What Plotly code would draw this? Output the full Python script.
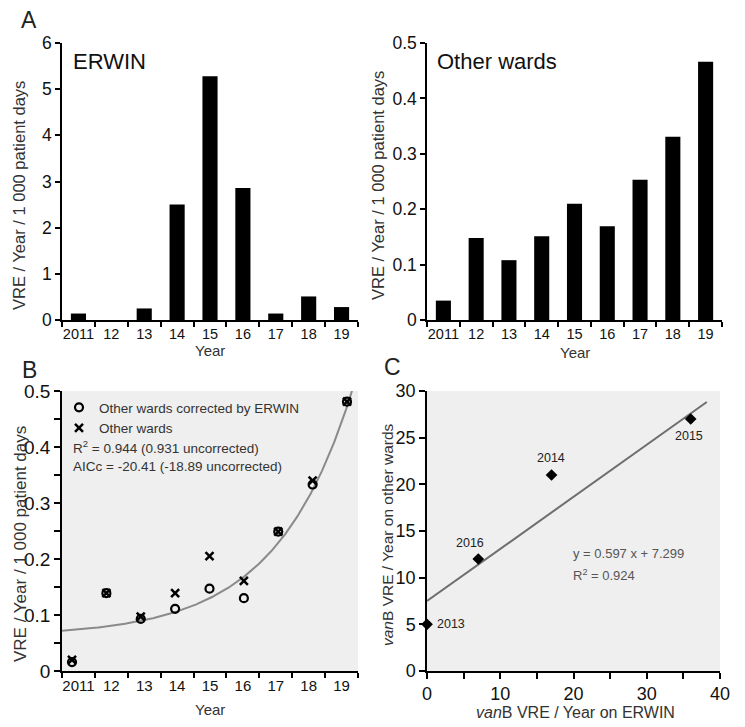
import numpy as np
import plotly.graph_objects as go

# ---------------- data ----------------
years = ["2011", "12", "13", "14", "15", "16", "17", "18", "19"]
year_num = [2011, 2012, 2013, 2014, 2015, 2016, 2017, 2018, 2019]
erwin_rate = [0.14, 0.0, 0.25, 2.50, 5.28, 2.86, 0.14, 0.51, 0.28]
other_rate = [0.035, 0.148, 0.108, 0.151, 0.210, 0.169, 0.253, 0.331, 0.466]
corrected_rate = [0.016, 0.139, 0.093, 0.111, 0.147, 0.130, 0.249, 0.333, 0.481]
uncorrected_rate = [0.020, 0.139, 0.097, 0.139, 0.205, 0.161, 0.249, 0.340, 0.481]
# exponential fit drawn in panel B: base + amp * exp(rate * (year - 2011))
fit_base, fit_amp, fit_rate = 0.062, 0.0112, 0.45

vanb_erwin = [0, 7, 17, 36]
vanb_other = [5, 12, 21, 27]
vanb_year = ["2013", "2016", "2014", "2015"]
lin_intercept, lin_slope, lin_xmax = 7.5, 0.558, 38.2

FONT = "Liberation Sans, Arial, sans-serif"
W, H = 745, 727


def px(x):
    return x / W


def py(y):
    return 1 - y / H


fig = go.Figure()

# Panel A left
fig.add_trace(go.Bar(x=years, y=erwin_rate, width=0.46, marker=dict(color="black", line_width=0),
                     xaxis="x", yaxis="y", showlegend=False))
# Panel A right
fig.add_trace(go.Bar(x=years, y=other_rate, width=0.46, marker=dict(color="black", line_width=0),
                     xaxis="x2", yaxis="y2", showlegend=False))
# Panel B category frame (invisible)
fig.add_trace(go.Scatter(x=years, y=corrected_rate, mode="markers", marker=dict(opacity=0),
                         xaxis="x3", yaxis="y3", showlegend=False, hoverinfo="skip"))
# Panel B fit curve
t = np.linspace(2010.709, 2019.3, 300)
fig.add_trace(go.Scatter(x=t, y=fit_base + fit_amp * np.exp(fit_rate * (t - 2011)), mode="lines",
                         line=dict(color="#8a8a8a", width=2), xaxis="x5", yaxis="y3",
                         showlegend=False, hoverinfo="skip"))
fig.add_trace(go.Scatter(x=year_num, y=corrected_rate, mode="markers", name="Other wards corrected by ERWIN",
                         marker=dict(symbol="circle-open", size=8, color="black", line=dict(width=2.2, color="black")),
                         xaxis="x5", yaxis="y3"))
fig.add_trace(go.Scatter(x=year_num, y=uncorrected_rate, mode="markers", name="Other wards",
                         marker=dict(symbol="x-thin-open", size=8, color="black", line=dict(width=2.5, color="black")),
                         xaxis="x5", yaxis="y3"))
# Panel C
fig.add_trace(go.Scatter(x=[0, lin_xmax], y=[lin_intercept, lin_intercept + lin_slope * lin_xmax], mode="lines",
                         line=dict(color="#6e6e6e", width=2), xaxis="x4", yaxis="y4",
                         showlegend=False, hoverinfo="skip"))
fig.add_trace(go.Scatter(x=vanb_erwin, y=vanb_other, mode="markers",
                         marker=dict(symbol="diamond", size=9, color="black"), cliponaxis=False,
                         xaxis="x4", yaxis="y4", showlegend=False))

axis_common = dict(showline=True, linecolor="black", linewidth=1.5, ticks="outside", ticklen=5,
                   tickwidth=1.5, tickcolor="black", showgrid=False, zeroline=False, automargin=False,
                   tickfont=dict(family=FONT, color="#111"))

dom_xl = [px(62), px(358)]
dom_xr = [px(427), px(722)]
dom_xc = [px(427), px(720)]
dom_ytop = [py(320), py(43)]
dom_ybot = [py(671), py(391)]

fig.update_layout(
    width=W, height=H, autosize=False, margin=dict(l=0, r=0, t=0, b=0, autoexpand=False),
    paper_bgcolor="white", plot_bgcolor="rgba(0,0,0,0)",
    font=dict(family=FONT, color="#222"),
    xaxis=dict(axis_common, domain=dom_xl, anchor="y", type="category", tickson="boundaries",
               range=[-0.5, 8.5], tickangle=0, tickfont=dict(family=FONT, size=14.5, color="#111")),
    yaxis=dict(axis_common, domain=dom_ytop, anchor="x", range=[0, 6], dtick=1,
               tickfont=dict(family=FONT, size=17.5, color="#111")),
    xaxis2=dict(axis_common, domain=dom_xr, anchor="y2", type="category", tickson="boundaries",
                range=[-0.5, 8.5], tickangle=0, tickfont=dict(family=FONT, size=14.5, color="#111")),
    yaxis2=dict(axis_common, domain=dom_ytop, anchor="x2", range=[0, 0.5], dtick=0.1,
                tickfont=dict(family=FONT, size=17.5, color="#111")),
    xaxis3=dict(axis_common, domain=dom_xl, anchor="y3", type="category", tickson="boundaries",
                range=[-0.5, 8.5], tickangle=0, tickfont=dict(family=FONT, size=15, color="#111")),
    yaxis3=dict(axis_common, domain=dom_ybot, anchor="x3", range=[0, 0.5], dtick=0.1, ticklen=6,
                minor=dict(dtick=0.05, ticks="outside", ticklen=6, tickwidth=1.5, tickcolor="black"),
                tickfont=dict(family=FONT, size=19, color="#111")),
    xaxis5=dict(domain=dom_xl, anchor="y3", overlaying="x3", range=[2010.709, 2019.32], visible=False),
    xaxis4=dict(axis_common, domain=dom_xc, anchor="y4", range=[0, 40], dtick=10, ticklen=6,
                minor=dict(dtick=5, ticks="outside", ticklen=6, tickwidth=1.5, tickcolor="black"),
                tickfont=dict(family=FONT, size=18, color="#111")),
    yaxis4=dict(axis_common, domain=dom_ybot, anchor="x4", range=[0, 30], dtick=5, ticklen=6,
                tickfont=dict(family=FONT, size=18, color="#111")),
    legend=dict(x=px(59), y=py(392), xanchor="left", yanchor="top", bgcolor="rgba(0,0,0,0)",
                font=dict(family=FONT, size=13.5, color="#333"), itemwidth=30, tracegroupgap=0),
    shapes=[
        dict(type="rect", xref="x3 domain", yref="y3 domain", x0=0, x1=1, y0=0, y1=1,
             fillcolor="#efefef", line_width=0, layer="below"),
        dict(type="rect", xref="x4 domain", yref="y4 domain", x0=0, x1=1, y0=0, y1=1,
             fillcolor="#efefef", line_width=0, layer="below"),
    ],
)

ann = []


def label(text, x, y, size, color="#222", xanchor="center", angle=0):
    ann.append(dict(text=text, x=px(x), y=py(y), xref="paper", yref="paper", showarrow=False,
                    xanchor=xanchor, yanchor="middle", textangle=angle,
                    font=dict(family=FONT, size=size, color=color)))


label("A", 29, 20, 23)
label("B", 29, 370, 23)
label("C", 392, 367, 23)
label("ERWIN", 71, 62, 22, "#111", "left")
label("Other wards", 435, 62, 22, "#111", "left")
label("Year", 210, 350, 15, "#333")
label("Year", 575, 352, 15, "#333")
label("Year", 210, 709, 15, "#333")
label("<i>van</i>B VRE / Year on ERWIN", 575, 712, 16, "#333")
label("VRE / Year / 1 000 patient days", 19, 196, 16.5, "#333", angle=-90)
label("VRE / Year / 1 000 patient days", 378, 186, 16.5, "#333", angle=-90)
label("VRE / Year / 1 000 patient days", 20, 544, 17, "#333", angle=-90)
label("<i>van</i>B VRE / Year on other wards", 387, 535, 15.5, "#333", angle=-90)
label("R<sup>2</sup> = 0.944 (0.931 uncorrected)", 71, 447, 13.5, "#333", "left")
label("AICc = -20.41 (-18.89 uncorrected)", 71, 466, 13.5, "#333", "left")
label("y = 0.597 x + 7.299", 571, 553, 13, "#555", "left")
label("R<sup>2</sup> = 0.924", 571, 575, 13, "#555", "left")

shifts = {"2013": (24, 0), "2016": (-8, 16), "2014": (-1, 17), "2015": (-2, -17)}
for xv, yv, name in zip(vanb_erwin, vanb_other, vanb_year):
    dx, dy = shifts[name]
    ann.append(dict(text=name, x=xv, y=yv, xref="x4", yref="y4", showarrow=False,
                    xshift=dx, yshift=dy, font=dict(family=FONT, size=12.5, color="#222")))

fig.update_layout(annotations=ann)
fig.write_html("out.html", config={"displayModeBar": False},
               post_script="document.body.style.margin='0';document.body.style.padding='0';")
